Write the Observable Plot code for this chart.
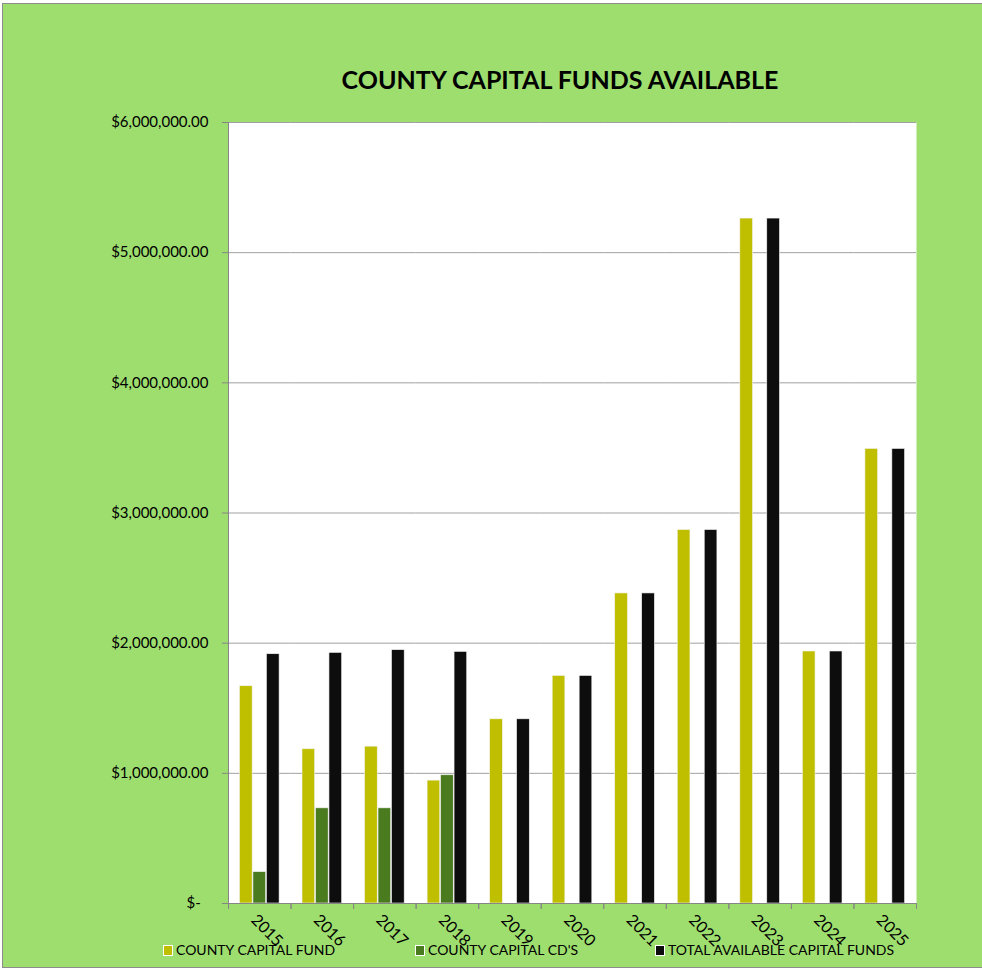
<!DOCTYPE html>
<html><head><meta charset="utf-8">
<script src="https://cdn.jsdelivr.net/npm/d3@7"></script>
<script src="https://cdn.jsdelivr.net/npm/@observablehq/plot@0.6"></script>
<style>
html,body{margin:0;padding:0;overflow:hidden;background:#fff;width:982px;height:969px;}
#bg{position:absolute;left:2px;top:3px;width:1000px;height:963px;border:1px solid #8c8c8c;background:#9ede6f;}
#title{position:absolute;left:0;width:1120px;top:65px;text-align:center;font-family:Lato;font-weight:bold;font-size:25px;line-height:28px;color:#000;}
#chart{position:absolute;left:0;top:0;}
.leg{position:absolute;top:942px;font-family:Lato;font-size:14px;line-height:16px;color:#000;white-space:nowrap;}
.sw{display:inline-block;width:8px;height:9px;border:1px solid #fff;margin-right:3px;vertical-align:-1px;}
</style></head>
<body>
<div id="bg"></div>
<div id="title">COUNTY CAPITAL FUNDS AVAILABLE</div>
<div id="chart"></div>
<div id="legend"></div>
<script>
const years = ["2015","2016","2017","2018","2019","2020","2021","2022","2023","2024","2025"];
const seriesNames = ["COUNTY CAPITAL FUND", "COUNTY CAPITAL CD'S", "TOTAL AVAILABLE CAPITAL FUNDS"];
const seriesColors = ["#bfbf00", "#4a7b1f", "#0d0d0d"];
const capitalFund = [1669000, 1185000, 1205000, 944000, 1415000, 1748000, 2382000, 2869000, 5262000, 1936000, 3492000];
const capitalCDs  = [241000, 731000, 731000, 985000, null, null, null, null, null, null, null];
const totalFunds  = [1915000, 1925000, 1946000, 1933000, 1415000, 1748000, 2382000, 2869000, 5262000, 1936000, 3492000];
const yTicks = [0, 1000000, 2000000, 3000000, 4000000, 5000000, 6000000];

const rows = years.flatMap((yr, i) => [
  {year: yr, series: seriesNames[0], value: capitalFund[i]},
  {year: yr, series: seriesNames[1], value: capitalCDs[i]},
  {year: yr, series: seriesNames[2], value: totalFunds[i]}
]).filter(d => d.value != null);

const fmt = d3.format(",.2f");
const axisGray = "#868686";

const chart = Plot.plot({
  width: 982, height: 969,
  marginLeft: 228, marginRight: 66, marginTop: 122, marginBottom: 66,
  style: {background: "transparent", fontFamily: "Lato", overflow: "visible"},
  fx: {domain: years, padding: 0, round: false, axis: null, label: null},
  x: {domain: seriesNames, paddingInner: 0.06, paddingOuter: 0.85, round: false, axis: null},
  y: {domain: [0, 6000000], axis: null, label: null},
  color: {domain: seriesNames, range: seriesColors},
  marks: [
    Plot.frame({fill: "white", stroke: null, facet: "super"}),
    Plot.gridY(yTicks, {stroke: "#a0a0a0", strokeOpacity: 1, strokeWidth: 1}),
    Plot.barY(rows, {fx: "year", x: "series", y: "value", fill: "series", stroke: "#f2f2f2", strokeWidth: 0.6}),
    Plot.frame({anchor: "bottom", stroke: axisGray, strokeWidth: 1, facet: "super"}),
    Plot.frame({anchor: "left", stroke: axisGray, strokeWidth: 1, facet: "super"}),
    Plot.frame({anchor: "left", insetTop: 781, insetBottom: -5, stroke: axisGray}),
    Plot.frame({anchor: "right", insetTop: 781, insetBottom: -5, stroke: axisGray}),
    Plot.axisY(yTicks, {
      anchor: "left",
      tickFormat: d => d === 0 ? "$-\u00a0\u00a0" : "$" + fmt(d),
      tickSize: 6, tickPadding: 14, stroke: axisGray, fill: "black",
      fontSize: 15, label: null
    }),
    Plot.axisFx({anchor: "bottom", tickRotate: 45, tickSize: 0, tickPadding: 14, fontSize: 16, fill: "black", label: null, textAnchor: "start", dx: -6})
  ]
});
document.getElementById("chart").appendChild(chart);

const legendLeft = [163, 415, 655];
const legend = document.getElementById("legend");
seriesNames.forEach((name, i) => {
  const item = document.createElement("div");
  item.className = "leg";
  item.style.left = legendLeft[i] + "px";
  item.innerHTML = `<span class="sw" style="background:${seriesColors[i]}"></span>${name}`;
  legend.appendChild(item);
});
</script>
</body></html>
